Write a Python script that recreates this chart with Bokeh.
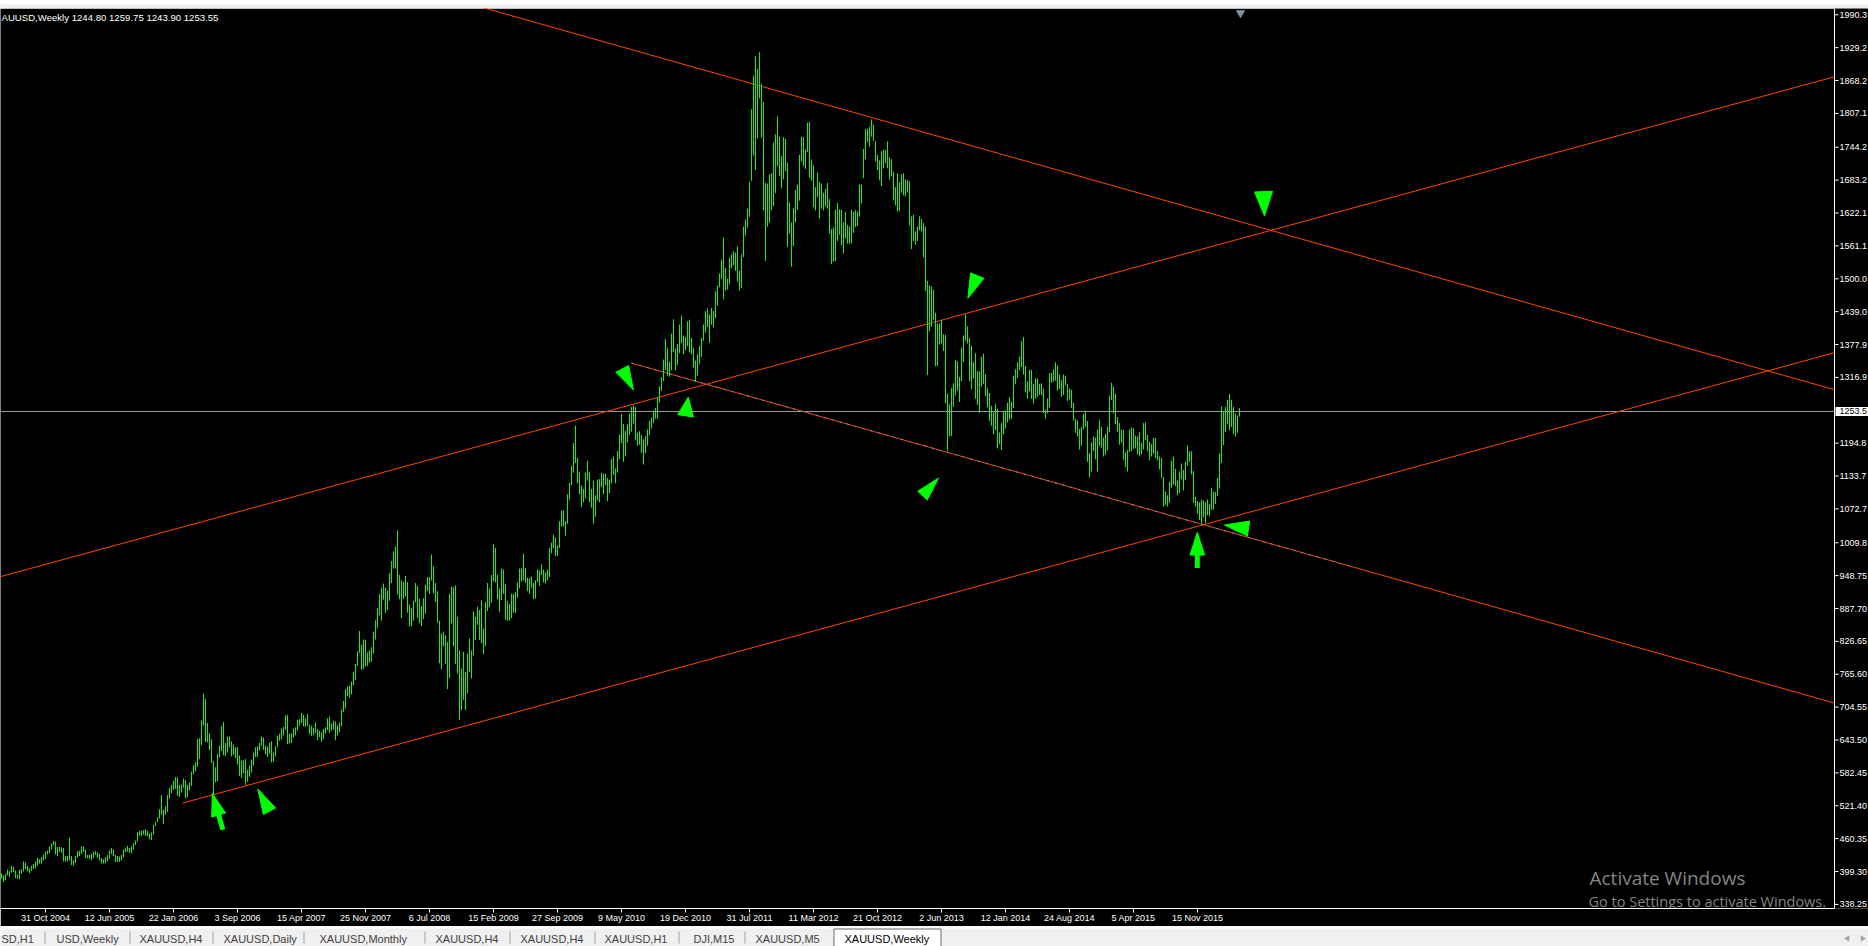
import numpy as np
from bokeh.plotting import figure
from bokeh.models import FixedTicker, Range1d
from bokeh.layouts import column
from bokeh.embed import file_html
from bokeh.resources import INLINE
from bokeh.core.properties import value

# ---------------- data ----------------
symbol_title = "AUUSD,Weekly  1244.80 1259.75 1243.90 1253.55"
current_price = 1253.55
current_price_label = "1253.5"

# week index 0 = week of 14 Mar 2004 ; first drawn bar = week of 30 May 2004
first_week = 11

high_2004 = [396,392,395,403,400, 410,408,401,393, 402,403,418,416,410, 405,410,413,418,
             425,422,426,431, 436,438,446,451,456, 455,445,445,444]
low_2004 = [386,380,383,392,389, 397,398,387,386, 385,395,399,404,400, 396,400,404,405,
            410,414,414,420, 423,431,433,440,448, 431,428,436,434]

high_2005 = [443,428,428,462,428, 420,428,437,438, 446,446,440,430, 430,432,436,437,
             435,432,424,422,426, 430,438,443,440, 430,428,427,430,440, 443,447,443,446,
             452,457,472,475, 475,476,478,475,470, 472,486,492,500, 515,541,514,520]
low_2005 = [418,418,418,420,411, 410,415,425,428, 432,436,424,424, 423,420,424,430,
            425,420,414,414,414, 418,423,432,428, 417,417,417,420,425, 435,436,434,433,
            440,448,455,466, 465,468,465,465,459, 458,468,484,491, 498,505,488,505]

high_2006 = [541,554,560,568,575, 574,560,561,572, 569,560,565,585, 597,602,645,647,680,
             730,720,675,656, 645,604,593,617, 633,669,677,638,650, 650,641,635,630,
             630,615,605,606, 608,588,596,607,620, 630,632,638,650, 648,633,631,638]
low_2006 = [510,535,545,551,553, 540,538,546,555, 535,537,550,558, 580,585,594,608,634,
            670,640,639,625, 601,542,565,567, 611,623,615,614,620, 630,613,616,610,
            598,577,573,582, 560,566,575,583,596, 612,612,624,633, 625,617,612,618]

high_2007 = [641,620,632,652,655, 665,668,689,690, 655,656,665,667, 681,682,694,690,684,
             692,672,670,666, 676,664,661,657, 664,667,684,687,674, 679,678,671,676,
             700,716,738,743,744, 752,770,785,808, 846,820,830,830, 806,810,816,845, 866]
low_2007 = [602,603,613,630,642, 645,652,663,636, 637,638,648,652, 661,670,675,669,668,
            670,655,651,652, 657,643,649,640, 645,655,662,657,661, 663,643,652,658,
            669,695,702,725,722, 728,745,755,781, 805,774,775,780, 781,787,789,804, 830]

high_2008 = [889,914,926,934, 926,921,953,976, 994,1003,1033,950,940, 937,948,937,895,
             888,902,935,930, 906,892,907,932,946, 946,988,966,935, 920,865,841,845,838,
             826,915,928,927, 931,872,810,776, 807,770,804,832,810, 882,872,891,885]
low_2008 = [852,875,865,904, 880,885,902,935, 962,962,914,905,870, 905,910,880,854,
            855,865,899,870, 860,855,868,878,920, 915,940,916,900, 862,786,775,818,785,
            738,758,860,818, 785,767,681,699, 718,699,730,770,758, 801,829,857,829]

high_2009 = [903,850,900,935, 925,950,1007,1000, 950,925,962,960,933, 902,896,915,915,
             918,936,962,962,990, 963,945,944,947, 935,940,960,958, 970,960,955,960,1000,
             1010,1025,1020,1005, 1050,1070,1070,1050, 1100,1121,1152,1195,1227,
             1168,1142,1116,1110]
low_2009 = [823,803,818,883, 890,898,938,936, 905,881,903,915,867, 865,865,870,880,
            880,908,925,938,940, 935,920,915,926, 905,906,937,930, 950,936,934,940,946,
            990,1000,985,985, 1000,1040,1040,1023, 1045,1090,1117,1140,1158,
            1120,1100,1076,1085]

high_2010 = [1140,1162,1142,1110,1125, 1098,1127,1128,1140, 1138,1138,1130,1127,
             1165,1170,1148,1180, 1210,1249,1230,1218,1230, 1250,1262,1265,1262,
             1214,1217,1210,1202, 1208,1220,1236,1242,1255, 1260,1280,1300,1317,
             1350,1388,1372,1346,1398, 1425,1370,1379,1415, 1432,1395,1392,1421]
low_2010 = [1092,1125,1085,1075,1045, 1058,1088,1085,1113, 1100,1117,1087,1102,
            1120,1136,1120,1140, 1165,1195,1160,1170,1196, 1210,1216,1231,1200,
            1190,1192,1177,1155, 1176,1190,1210,1222,1232, 1240,1240,1270,1292,
            1310,1330,1320,1318,1330, 1364,1330,1340,1362, 1380,1360,1367,1375]

high_2011 = [1424,1390,1372,1348,1360, 1375,1390,1415,1440, 1445,1434,1446,1440,
             1477,1487,1510,1535, 1577,1520,1500,1539,1545, 1551,1549,1560,1515,
             1545,1597,1610,1630,1680, 1815,1877,1913,1890, 1921,1862,1829,1678,
             1677,1693,1696,1753,1768, 1802,1764,1728,1763, 1760,1716,1642,1605]
low_2011 = [1363,1360,1335,1309,1320, 1342,1355,1385,1400, 1410,1381,1415,1410,
            1427,1450,1484,1500, 1462,1478,1480,1490,1520, 1525,1515,1495,1478,
            1483,1540,1580,1595,1615, 1682,1729,1702,1761, 1835,1762,1627,1533,
            1597,1604,1627,1635,1659, 1709,1691,1668,1685, 1700,1559,1584,1522]

high_2012 = [1631,1665,1675,1730,1764, 1763,1740,1790,1792, 1722,1711,1670,1697,
             1680,1677,1660,1667,1678, 1648,1592,1595,1628, 1641,1629,1628,1605,
             1624,1600,1597,1628,1624, 1627,1625,1675,1675, 1741,1778,1779,1782,1796,
             1786,1756,1730,1720, 1737,1740,1739,1755, 1726,1722,1699,1670,1696]
low_2012 = [1560,1605,1628,1645,1718, 1710,1704,1735,1688, 1682,1633,1627,1652,
            1612,1630,1627,1634,1630, 1584,1527,1532,1533, 1570,1582,1562,1547,
            1575,1565,1565,1566,1585, 1596,1598,1615,1640, 1687,1722,1754,1745,1764,
            1756,1718,1702,1683, 1672,1705,1715,1705, 1684,1690,1646,1636,1625]

high_2013 = [1679,1694,1696,1685, 1683,1681,1616,1619, 1588,1597,1616,1611,1604,
             1597,1496,1488,1486, 1480,1437,1417,1417, 1424,1397,1396,1287,1267,
             1297,1306,1349,1347, 1318,1372,1395,1434, 1412,1390,1376,1345,1362,
             1329,1328,1355,1361, 1323,1297,1288,1264, 1252,1268,1258,1215,1232]
low_2013 = [1626,1660,1655,1653, 1660,1599,1555,1570, 1563,1570,1590,1588,1540,
            1477,1321,1403,1411, 1423,1338,1338,1378, 1380,1366,1269,1180,1207,
            1208,1262,1283,1292, 1271,1310,1345,1385, 1380,1310,1295,1315,1277,
            1266,1251,1300,1305, 1282,1261,1236,1227, 1211,1219,1185,1193,1182]

high_2014 = [1255,1255,1270,1280, 1272,1320,1332,1345, 1355,1384,1392,1338,1310,
             1331,1331,1305,1315, 1315,1305,1306,1296, 1257,1278,1325,1325,1332,
             1345,1339,1322,1312, 1322,1320,1305,1296,1294, 1270,1240,1237,1221,
             1225,1249,1255,1236, 1176,1196,1207,1205,1220, 1238,1225,1205,1212]
low_2014 = [1211,1222,1233,1238, 1240,1260,1304,1316, 1330,1336,1322,1289,1277,
            1291,1277,1268,1277, 1281,1284,1284,1251, 1240,1250,1261,1307,1309,
            1311,1292,1296,1281, 1284,1302,1273,1276,1260, 1237,1214,1207,1183,
            1190,1220,1225,1160, 1131,1142,1180,1165,1142, 1190,1186,1170,1173]

high_2015 = [1225,1282,1307,1300, 1287,1243,1232,1220, 1220,1178,1182,1220,1224,
             1223,1209,1207,1215, 1196,1232,1233,1210,1197, 1193,1205,1204,1180,
             1170,1168,1132,1105, 1098,1123,1162,1170,1147, 1125,1142,1157,1145,
             1160,1191,1180,1180, 1143,1095,1087,1085,1090, 1088,1085,1090,1082]
low_2015 = [1181,1215,1275,1250, 1230,1216,1192,1196, 1164,1150,1142,1178,1180,
            1184,1185,1174,1170, 1174,1183,1200,1180,1163, 1170,1175,1167,1163,
            1146,1130,1077,1080, 1077,1084,1112,1118,1115, 1098,1102,1128,1107,
            1126,1153,1160,1137, 1084,1077,1064,1052,1046, 1057,1046,1061,1059]

high_2016 = [1112,1105,1104,1130,1176, 1263,1253,1262,1275, 1286,1275,1262,1250, 1246,1259.75]
low_2016 = [1071,1071,1082,1097,1110, 1158,1191,1215,1230, 1219,1225,1212,1207, 1214,1243.90]

week_high = (high_2004 + high_2005 + high_2006 + high_2007 + high_2008 + high_2009 + high_2010
             + high_2011 + high_2012 + high_2013 + high_2014 + high_2015 + high_2016)
week_low = (low_2004 + low_2005 + low_2006 + low_2007 + low_2008 + low_2009 + low_2010
            + low_2011 + low_2012 + low_2013 + low_2014 + low_2015 + low_2016)
weeks = list(range(first_week, first_week + len(week_high)))

# time axis labels (week index, text)
x_tick_weeks = [33, 65, 97, 129, 161, 193, 225, 257, 289, 321, 353, 385, 417, 449, 481, 513, 545, 577, 609]
x_tick_labels = ["31 Oct 2004", "12 Jun 2005", "22 Jan 2006", "3 Sep 2006", "15 Apr 2007",
                 "25 Nov 2007", "6 Jul 2008", "15 Feb 2009", "27 Sep 2009", "9 May 2010",
                 "19 Dec 2010", "31 Jul 2011", "11 Mar 2012", "21 Oct 2012", "2 Jun 2013",
                 "12 Jan 2014", "24 Aug 2014", "5 Apr 2015", "15 Nov 2015"]

# price axis labels
y_tick_values = [1990.3, 1929.2, 1868.2, 1807.1, 1744.2, 1683.2, 1622.1, 1561.1, 1500.0,
                 1439.0, 1377.9, 1316.9, 1194.8, 1133.7, 1072.7, 1009.8, 948.75, 887.70,
                 826.65, 765.60, 704.55, 643.50, 582.45, 521.40, 460.35, 399.30, 338.25]
y_tick_labels = ["1990.3", "1929.2", "1868.2", "1807.1", "1744.2", "1683.2", "1622.1", "1561.1",
                 "1500.0", "1439.0", "1377.9", "1316.9", "1194.8", "1133.7", "1072.7", "1009.8",
                 "948.75", "887.70", "826.65", "765.60", "704.55", "643.50", "582.45", "521.40",
                 "460.35", "399.30", "338.25"]

# trend lines: two anchors (week, price)
trend_w1 = [390.0, 10.5, 326.0, 101.5]
trend_p1 = [1858.4, 946.9, 1343.5, 526.4]
trend_w2 = [446.0, 927.5, 927.5, 927.5]
trend_p2 = [1799.6, 1875.2, 712.1, 1362.8]
trend_extend_left = [True, True, False, False]

# dotted blue line lying on the third trend line
dot_w_start, dot_w_end = 326.0, 686.5

# arrows: tip (week, price), pointing angle (deg), length px, width px, stem px
arrow_week = [327.0, 354.4, 494.2, 642.5, 479.5, 622.5, 608.9, 116.4, 139.2]
arrow_price = [1293.4, 1280.4, 1463.7, 1616.5, 1129.9, 1042.7, 1029.1, 544.5, 552.4]
arrow_angle = [-62.0, 81.6, -112.3, -87.7, 47.6, 171.7, 90.0, 106.2, 117.7]
arrow_len = [24.0, 19.0, 24.6, 24.5, 23.7, 24.3, 22.7, 22.6, 25.0]
arrow_wid = [14.5, 16.0, 14.4, 18.0, 13.0, 15.2, 14.7, 14.4, 14.0]
arrow_stem = [0, 0, 0, 0, 0, 0, 13.0, 15.4, 0]

tab_names = ["SD,H1", "USD,Weekly", "XAUUSD,H4", "XAUUSD,Daily", "XAUUSD,Monthly", "XAUUSD,H4",
             "XAUUSD,H4", "XAUUSD,H1", "DJI,M15", "XAUUSD,M5", "XAUUSD,Weekly"]

# ---------------- layout constants ----------------
PX_PER_WEEK = 2.0
PRICE_PER_PX = 1.857
FIG_W = 1868
FRAME_H = 900
X_START = 10.5                       # bar of week i sits at page x = 2*i - 21
X_END = X_START + FIG_W / PX_PER_WEEK
R_EDGE = 927.5                       # right border of the price area (week units) -> x = 1834
P_MAX = 2001.92                      # price at the top of the frame (page y = 8)
P_MIN = P_MAX - FRAME_H * PRICE_PER_PX
FONT = "Liberation Sans"


def wk(xpx):          # page x -> week units
    return xpx / 2.0 + X_START


def pr(ypx):          # page y -> price
    return P_MAX - (ypx - 8.0) * PRICE_PER_PX


def bare(fig):
    fig.axis.visible = False
    fig.grid.visible = False


# ---------------- toolbar strip above the chart ----------------
top = figure(width=FIG_W, height=8, x_range=Range1d(0, FIG_W), y_range=Range1d(0, 8),
             output_backend="svg", toolbar_location=None,
             background_fill_color="#f0f0f0", border_fill_color="#f0f0f0", outline_line_color=None,
             min_border_left=0, min_border_top=0, min_border_right=0, min_border_bottom=0)
bare(top)
top.quad(left=[0], right=[FIG_W], bottom=[0], top=[3], fill_color="#6e6e6e", line_color=None)
top.quad(left=[0], right=[FIG_W], bottom=[3], top=[4], fill_color="#a8a8a8", line_color=None)

# ---------------- main chart ----------------
p = figure(width=FIG_W, frame_height=FRAME_H, x_range=Range1d(X_START, X_END), y_range=Range1d(P_MIN, P_MAX),
           output_backend="svg", toolbar_location=None, y_axis_location=None,
           background_fill_color="black", border_fill_color="black", outline_line_color=None,
           min_border_left=0, min_border_top=0, min_border_right=0, min_border_bottom=18)
p.grid.visible = False

xa = p.xaxis[0]
xa.ticker = FixedTicker(ticks=x_tick_weeks)
xa.major_label_overrides = {w: s for w, s in zip(x_tick_weeks, x_tick_labels)}
xa.major_label_text_align = "left"
xa.bounds = (X_START, R_EDGE)
xa.axis_line_color = "white"
xa.major_tick_line_color = "white"
xa.minor_tick_line_color = None
xa.major_tick_in = 0
xa.major_tick_out = 4
xa.major_label_standoff = 0
xa.major_label_text_color = "white"
xa.major_label_text_font = FONT
xa.major_label_text_font_size = "9px"

# frame borders (top and right) of the price area
p.segment([X_START], [P_MAX], [R_EDGE], [P_MAX], line_color="white", line_width=1)
p.segment([R_EDGE], [P_MIN], [R_EDGE], [P_MAX], line_color="white", line_width=1)

# price scale on the right of the border
p.segment(x0=[R_EDGE] * len(y_tick_values), y0=y_tick_values,
          x1=[R_EDGE + 2.0] * len(y_tick_values), y1=y_tick_values, line_color="white", line_width=1)
p.text(x=[wk(1839)] * len(y_tick_values), y=y_tick_values, text=y_tick_labels, text_color="white",
       text_font=value(FONT), text_font_size="9px", text_align="left", text_baseline="middle")

# current price line and tag
p.segment([X_START], [current_price], [R_EDGE], [current_price], line_color="#9a9a9a", line_width=1)
p.quad(left=[R_EDGE + 0.5], right=[X_END], bottom=[current_price - 4.5 * PRICE_PER_PX],
       top=[current_price + 4.5 * PRICE_PER_PX], fill_color="white", line_color=None)
p.text(x=[wk(1839)], y=[current_price], text=[current_price_label], text_color="black",
       text_font=value(FONT), text_font_size="9px", text_align="left", text_baseline="middle")

# trend lines
for w1, p1, w2, p2_, ext in zip(trend_w1, trend_p1, trend_w2, trend_p2, trend_extend_left):
    slope = (p2_ - p1) / (w2 - w1)
    xs0 = -50.0 if ext else w1
    xs1 = R_EDGE
    p.line([xs0, xs1], [p1 + slope * (xs0 - w1), p1 + slope * (xs1 - w1)],
           line_color="#ff4500", line_width=1)

# dotted blue overlay on third line
c_slope = (trend_p2[2] - trend_p1[2]) / (trend_w2[2] - trend_w1[2])
p.line([dot_w_start, dot_w_end],
       [trend_p1[2] + c_slope * (dot_w_start - trend_w1[2]), trend_p1[2] + c_slope * (dot_w_end - trend_w1[2])],
       line_color="#3aa8ff", line_width=1, line_dash="2 6")

# weekly bars
p.segment(x0=weeks, y0=week_low, x1=weeks, y1=week_high, line_color="#00ff00", line_width=1)

# arrows
head_xs, head_ys = [], []
stem_x0, stem_y0, stem_x1, stem_y1 = [], [], [], []
for tw, tp, ang, L, Wd, S in zip(arrow_week, arrow_price, arrow_angle, arrow_len, arrow_wid, arrow_stem):
    a = np.radians(ang)
    ux, uy = np.cos(a), np.sin(a)
    bx, by = -ux * L, -uy * L
    pts = [(0.0, 0.0), (bx - uy * Wd / 2, by + ux * Wd / 2), (bx + uy * Wd / 2, by - ux * Wd / 2)]
    head_xs.append([tw + dx / PX_PER_WEEK for dx, dy in pts])
    head_ys.append([tp + dy * PRICE_PER_PX for dx, dy in pts])
    if S > 0:
        sx0, sy0 = bx + ux * 1.0, by + uy * 1.0
        sx1, sy1 = bx - ux * S, by - uy * S
        stem_x0.append(tw + sx0 / PX_PER_WEEK)
        stem_y0.append(tp + sy0 * PRICE_PER_PX)
        stem_x1.append(tw + sx1 / PX_PER_WEEK)
        stem_y1.append(tp + sy1 * PRICE_PER_PX)
p.patches(head_xs, head_ys, fill_color="#00ff00", line_color="#00ff00", line_width=1)
p.segment(stem_x0, stem_y0, stem_x1, stem_y1, line_color="#00ff00", line_width=5, line_cap="butt")

# chart shift marker
p.scatter([wk(1240)], [pr(12.5)], marker="inverted_triangle", size=8,
          fill_color="#8090a0", line_color="#8090a0")

# title
p.text([wk(1)], [pr(16.5)], text=[symbol_title], text_color="white",
       text_font=value(FONT), text_font_size="9.6px", text_align="left", text_baseline="middle")

# watermark
p.text([wk(1589)], [pr(877)], text=["Activate Windows"], text_color="#858585",
       text_font=value("Open Sans"), text_font_size="19px", text_align="left", text_baseline="middle")
p.text([wk(1588)], [pr(901)], text=["Go to Settings to activate Windows."], text_color="#858585",
       text_font=value("Open Sans"), text_font_size="14.5px", text_align="left", text_baseline="middle")

# ---------------- tab bar ----------------
tab_left_px = [1, 56, 139, 223, 319, 435, 520, 604, 693, 755, 844]
sep_px = [44.5, 129.5, 212.5, 303.5, 424.5, 509.5, 594.5, 678.5, 744.5]
t = figure(width=FIG_W, height=20, x_range=Range1d(0, FIG_W), y_range=Range1d(0, 20),
           output_backend="svg", toolbar_location=None,
           background_fill_color="#f0f0f0", border_fill_color="#f0f0f0", outline_line_color=None,
           min_border_left=0, min_border_top=0, min_border_right=0, min_border_bottom=0)
bare(t)
t.quad(left=[0], right=[FIG_W], bottom=[18], top=[20], fill_color="#ffffff", line_color=None)
t.quad(left=[833.5], right=[940.5], bottom=[-1], top=[17.5], fill_color="white", line_color="#6a6a6a")
t.segment(x0=sep_px, y0=[3] * len(sep_px), x1=sep_px, y1=[15] * len(sep_px),
          line_color="#a0a0a0", line_width=1)
t.text(tab_left_px, [8] * len(tab_left_px), text=tab_names,
       text_color=["#404040"] * 10 + ["black"], text_font=value(FONT), text_font_size="11px",
       text_align="left", text_baseline="middle")
t.scatter([1847, 1862], [8, 8], marker="triangle", angle=[np.pi / 2, -np.pi / 2], size=6,
          fill_color="#a0a0a0", line_color=None)

layout = column(top, p, t, spacing=0)
open("out.html", "w").write(file_html(layout, INLINE))
